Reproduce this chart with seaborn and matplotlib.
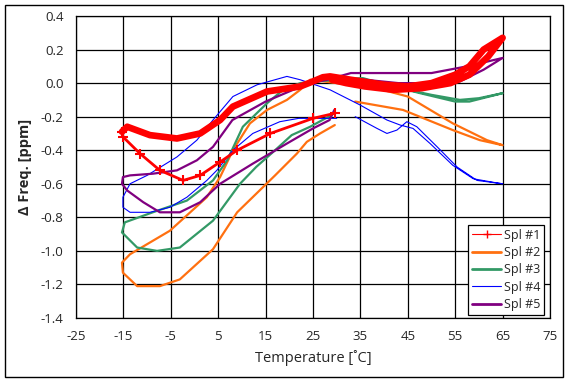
import seaborn as sns
import pandas as pd
import matplotlib.pyplot as plt
from matplotlib.lines import Line2D
from matplotlib.patches import Rectangle

# temperature sweep: start ~30 C, cool to -15, heat to 65, cool back toward 30
spl1_temp = [29.6, 25, 16, 9, 5.4, 1.2, -2.4, -7.3, -11.5, -15.1, -15.3, -14.2, -9.4, -3.7, 1.2, 5.4,
             8.1, 15.3, 22.3, 25, 27.1, 28.6, 33, 40, 45, 50, 55, 58, 61, 65, 62, 58, 54, 48, 42, 36, 32, 29]
spl1_freq = [-0.18, -0.21, -0.30, -0.40, -0.47, -0.55, -0.58, -0.52, -0.42, -0.32, -0.29, -0.26, -0.31, -0.33, -0.30, -0.22,
             -0.14, -0.05, -0.02, 0.01, 0.035, 0.04, 0.02, -0.01, -0.02, 0.0, 0.05, 0.10, 0.20, 0.27, 0.16, 0.05, 0.0, -0.03, -0.04, -0.02, 0.0, 0.02]

spl2_temp = [29.6, 26.5, 23.7, 21.6, 17, 13, 9, 3.9, -3.1, -7.3, -12.1, -15.1, -15.3, -13.6, -9.4, -5.2, -0.9, 2.6,
             5.4, 8.1, 11.7, 15.3, 19.5, 22.3, 24.4, 30, 37, 45, 54.5, 61.7, 65, 60.2, 54.5, 44, 33.9]
spl2_freq = [-0.25, -0.30, -0.35, -0.42, -0.55, -0.66, -0.77, -0.99, -1.17, -1.21, -1.21, -1.13, -1.07, -1.02, -0.95, -0.88, -0.77, -0.68,
             -0.56, -0.40, -0.24, -0.16, -0.10, -0.04, 0.02, 0.0, -0.02, -0.08, -0.24, -0.34, -0.37, -0.34, -0.28, -0.16, -0.11]

spl3_temp = [29, 27, 24.4, 20.5, 17, 13, 9.6, 3.9, -3.1, -7.9, -12.1, -15.3, -14.7, -8.8, -1.6, 3.9, 6.9, 10.2,
             15.3, 18.7, 22.3, 24.4, 30, 35.5, 40.6, 47.6, 55, 58, 65, 60, 56, 50, 45, 40, 35]
spl3_freq = [-0.19, -0.22, -0.26, -0.31, -0.40, -0.50, -0.60, -0.82, -0.98, -1.00, -0.98, -0.89, -0.83, -0.77, -0.70, -0.58, -0.46, -0.26,
             -0.12, -0.04, 0.0, 0.007, 0.02, 0.03, -0.01, -0.06, -0.11, -0.11, -0.06, -0.09, -0.10, -0.07, -0.04, -0.01, 0.01]

spl4_temp = [30, 22, 18, 12.3, 8.1, 4.7, 2.6, -1.6, -5.2, -9.4, -13.6, -15.1, -15.1, -13.6, -10, -3.7, 0.5, 3.9,
             8.1, 13.2, 19.5, 22.3, 24.4, 28.6, 34.9, 40.6, 43.4, 46.1, 49.7, 54.5, 58.8, 63.8, 65,
             59.6, 55.4, 51.2, 46.9, 44.8, 42.7, 40.6, 38.5, 33.9]
spl4_freq = [-0.21, -0.21, -0.23, -0.30, -0.40, -0.52, -0.58, -0.68, -0.74, -0.77, -0.77, -0.74, -0.68, -0.60, -0.55, -0.44, -0.34, -0.22,
             -0.08, -0.01, 0.04, 0.02, 0.0, -0.04, -0.13, -0.22, -0.25, -0.27, -0.36, -0.49, -0.57, -0.595, -0.60,
             -0.58, -0.50, -0.38, -0.26, -0.23, -0.28, -0.30, -0.27, -0.20]

spl5_temp = [29.5, 28.5, 25, 19.5, 12.3, 5.4, 1.2, -3.1, -7.3, -10.8, -14.2, -15.3, -15.1, -13.6, -8.8, -3.7, 0.5, 3.9,
             8, 15, 20.8, 24.4, 28, 33, 40, 50, 57.5, 62, 65, 61, 56, 50, 43, 36, 32]
spl5_freq = [-0.16, -0.22, -0.27, -0.36, -0.48, -0.60, -0.71, -0.77, -0.77, -0.71, -0.64, -0.60, -0.56, -0.55, -0.54, -0.52, -0.46, -0.38,
             -0.22, -0.11, -0.04, 0.0, 0.02, 0.06, 0.06, 0.06, 0.10, 0.13, 0.15, 0.08, 0.01, 0.0, 0.0, 0.02, 0.03]

names = ["Spl #1", "Spl #2", "Spl #3", "Spl #4", "Spl #5"]
colors = ["#FF0000", "#FF7010", "#339966", "#0000FF", "#800080"]
widths = [1.0, 1.6, 1.6, 0.8, 1.6]

xticks = [-25, -15, -5, 5, 15, 25, 35, 45, 55, 65, 75]
yticks = [0.4, 0.2, 0.0, -0.2, -0.4, -0.6, -0.8, -1.0, -1.2, -1.4]

sns.set_style("white")
plt.rcParams['font.family'] = ['Open Sans', 'DejaVu Sans']

fig = plt.figure(figsize=(5.71, 3.82), dpi=100)
ax = fig.add_axes([76 / 571, 1 - 318 / 382, 474 / 571, 302 / 382])

def frame(t, f):
    return pd.DataFrame({'Temp': t, 'Freq': f})

data = [frame(spl1_temp, spl1_freq), frame(spl2_temp, spl2_freq), frame(spl3_temp, spl3_freq),
        frame(spl4_temp, spl4_freq), frame(spl5_temp, spl5_freq)]

# others first, red on top
for i in [1, 2, 3, 4]:
    sns.lineplot(data=data[i], x='Temp', y='Freq', sort=False, estimator=None,
                 color=colors[i], lw=widths[i], ax=ax)

# red: cooling leg with visible + markers, the rest drawn as a thick band
lower = data[0].iloc[:11]
upper = data[0].iloc[10:]
sns.lineplot(data=lower, x='Temp', y='Freq', sort=False, estimator=None, color=colors[0],
             lw=2.0, marker='+', markersize=7, markeredgewidth=1.5, markeredgecolor=colors[0], ax=ax)
sns.lineplot(data=upper, x='Temp', y='Freq', sort=False, estimator=None, color=colors[0],
             lw=4.8, solid_joinstyle='round', solid_capstyle='round', ax=ax)

ax.set_xlim(-25, 75)
ax.set_ylim(-1.4, 0.4)
ax.set_xticks(xticks)
ax.set_xticklabels([str(v) for v in xticks])
ax.set_yticks(yticks)
ax.set_yticklabels([f"{v:.1f}" for v in yticks])
ax.tick_params(length=0, labelsize=9.5, pad=9)
ax.grid(True, color='black', lw=0.9)
ax.set_axisbelow(True)
for s in ax.spines.values():
    s.set_color('black')
    s.set_linewidth(0.9)

ax.set_xlabel('Temperature [˚C]', fontsize=10.5, labelpad=5)
ax.set_ylabel('Δ Freq. [ppm]', fontsize=10.5, fontweight='bold', labelpad=6)

handles = []
for i, n in enumerate(names):
    if i == 0:
        handles.append(Line2D([], [], color=colors[i], lw=0.8, marker='+', markersize=6))
    else:
        handles.append(Line2D([], [], color=colors[i], lw=widths[i] + 0.4 if widths[i] > 1 else widths[i]))
leg = ax.legend(handles, names, loc='lower right', bbox_to_anchor=(0.988, 0.01), borderaxespad=0,
                fontsize=9, handlelength=2.3, handletextpad=0.25, labelspacing=0.35,
                borderpad=0.3, fancybox=False, framealpha=1, edgecolor='black')
leg.get_frame().set_linewidth(0.9)

fig.patches.append(Rectangle((5 / 571, 1 - 377 / 382), 558 / 571, 372 / 382, transform=fig.transFigure,
                             fill=False, edgecolor='black', lw=1))

fig.savefig('out.png', dpi=100)
